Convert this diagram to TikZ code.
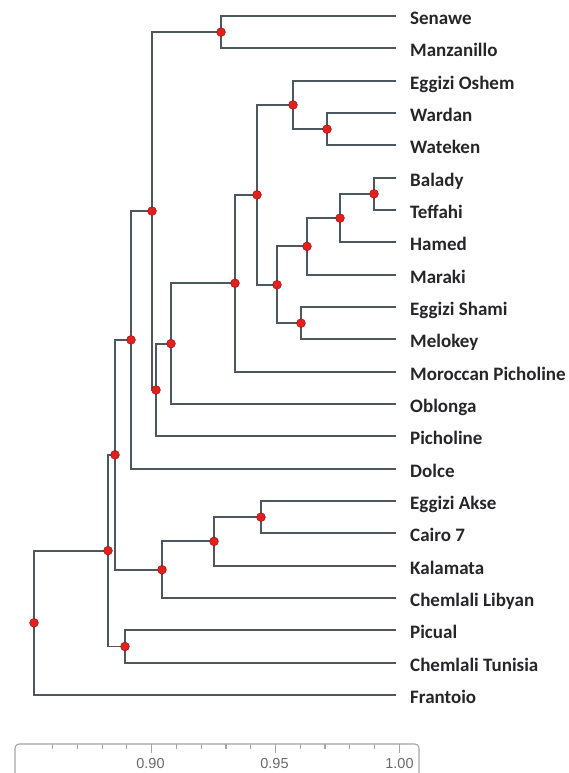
\documentclass[tikz,border=0pt]{standalone}
\usepackage{fontspec}
\setmainfont{Carlito}
\newfontfamily\axisfont{Liberation Sans}
\definecolor{linec}{RGB}{78,86,94}
\definecolor{labc}{RGB}{38,38,42}
\definecolor{dotred}{RGB}{226,32,30}
\definecolor{dotedge}{RGB}{150,22,20}
\definecolor{axc}{RGB}{105,105,110}
\definecolor{axline}{RGB}{165,165,168}
\begin{document}
\begin{tikzpicture}[x=1bp,y=-1bp,
  br/.style={draw=linec, line width=1.9bp},
  dotn/.style={circle, fill=dotred, draw=dotedge, line width=0.5bp, minimum size=8.8bp, inner sep=0pt},
  leaflab/.style={anchor=base west, inner sep=0pt, font=\bfseries\fontsize{19bp}{21bp}\selectfont, text=labc},
  axlab/.style={anchor=base, inner sep=0pt, font=\axisfont\fontsize{14.5bp}{16bp}\selectfont, text=axc},
  axisln/.style={draw=axline, line width=1.1bp}]
\useasboundingbox (0,0) rectangle (569,773);
% leaves
\foreach \n [count=\i from 0] in {Senawe,Manzanillo,Eggizi Oshem,Wardan,Wateken,Balady,Teffahi,Hamed,Maraki,Eggizi Shami,Melokey,Moroccan Picholine,Oblonga,Picholine,Dolce,Eggizi Akse,Cairo 7,Kalamata,Chemlali Libyan,Picual,Chemlali Tunisia,Frantoio}{
  \coordinate (t\i) at (396,{16+32.333*\i});
  \node[leaflab] (l\i) at (410,{24.5+32.333*\i}) {\n};
}
% internal nodes
\coordinate (n221) at (221,32.17);
\coordinate (n327) at (327,129.17);
\coordinate (n293) at (293,104.92);
\coordinate (n374) at (374,193.83);
\coordinate (n340) at (340,218.08);
\coordinate (n307) at (307,246.38);
\coordinate (n301) at (301,323.17);
\coordinate (n276) at (277,284.77);
\coordinate (n256) at (257,194.85);
\coordinate (n235) at (235,283.26);
\coordinate (n170) at (171,343.63);
\coordinate (n156) at (156,389.98);
\coordinate (n152) at (152,211.07);
\coordinate (n131) at (131,339.87);
\coordinate (n261) at (261,517.17);
\coordinate (n214) at (214,541.42);
\coordinate (n162) at (162,569.71);
\coordinate (n115) at (115,454.79);
\coordinate (n125) at (125,646.5);
\coordinate (n108) at (108,550.65);
\coordinate (n34) at (34,622.8);
% connectors
\draw[br] (t0) -| (n221) |- (t1);
\draw[br] (t3) -| (n327) |- (t4);
\draw[br] (t2) -| (n293) |- (n327);
\draw[br] (t5) -| (n374) |- (t6);
\draw[br] (n374) -| (n340) |- (t7);
\draw[br] (n340) -| (n307) |- (t8);
\draw[br] (t9) -| (n301) |- (t10);
\draw[br] (n307) -| (n276) |- (n301);
\draw[br] (n293) -| (n256) |- (n276);
\draw[br] (n256) -| (n235) |- (t11);
\draw[br] (n235) -| (n170) |- (t12);
\draw[br] (n170) -| (n156) |- (t13);
\draw[br] (n221) -| (n152) |- (n156);
\draw[br] (n152) -| (n131) |- (t14);
\draw[br] (t15) -| (n261) |- (t16);
\draw[br] (n261) -| (n214) |- (t17);
\draw[br] (n214) -| (n162) |- (t18);
\draw[br] (n131) -| (n115) |- (n162);
\draw[br] (t19) -| (n125) |- (t20);
\draw[br] (n115) -| (n108) |- (n125);
\draw[br] (n108) -| (n34) |- (t21);
% dots
\foreach \c in {n221,n327,n293,n374,n340,n307,n301,n276,n256,n235,n170,n156,n152,n131,n261,n214,n162,n115,n125,n108,n34}{
  \node[dotn] (d\c) at (\c) {};
}
% axis
\draw[axisln, rounded corners=4bp] (15,773) -- (15,744) -- (419,744) -- (419,773);
\foreach \v in {86,...,100}{
  \draw[axisln] ({151.7+(\v-90)*24.76},744) -- ({151.7+(\v-90)*24.76},748.5);
}
\foreach \v in {90,95,100}{
  \draw[axisln] ({151.7+(\v-90)*24.76},744) -- ({151.7+(\v-90)*24.76},753);
}
\node[axlab] (a90) at (150.5,768.5) {0.90};
\node[axlab] (a95) at (274.5,768.5) {0.95};
\node[axlab] (a100) at (399.5,768.5) {1.00};
\end{tikzpicture}
\end{document}
